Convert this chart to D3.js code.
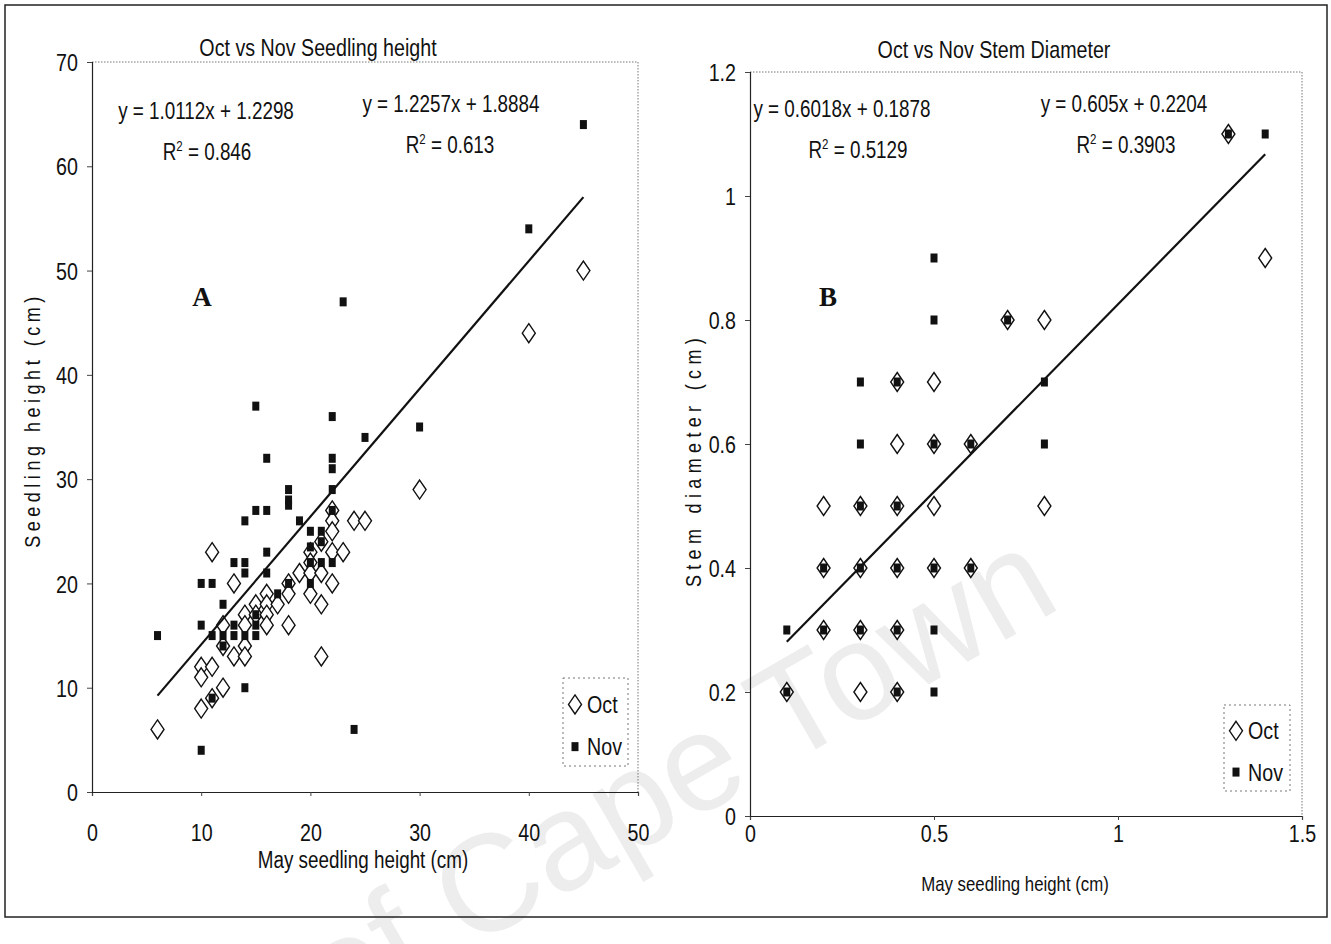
<!DOCTYPE html>
<html><head><meta charset="utf-8">
<script src="https://cdn.jsdelivr.net/npm/d3@7/dist/d3.min.js"></script>
<style>
html,body{margin:0;padding:0;background:#fff;}
svg text{font-family:"Liberation Sans",Arial,sans-serif;fill:#111;}
</style></head>
<body>
<svg id="chart" width="1331" height="944"></svg>
<script>
// ---------------- DATA ----------------
// Panel A: seedling height (cm) [May, month]
const heightOct = [[6,6],[10,12],[10,11],[10,8],[11,12],[11,23],[11,9],[12,10],[12,16],[12,14],[13,20],[13,13],
  [14,17],[14,16],[14,14],[14,13],[15,18],[15,17],[16,19],[16,18],[16,17],[16,16],[17,18],[18,20],[18,19],[18,16],
  [19,21],[20,23],[20,22],[20,21],[20,19],[21,24],[21,21],[21,18],[21,13],[22,27],[22,26],[22,25],[22,23],[22,20],
  [23,23],[24,26],[25,26],[30,29],[40,44],[45,50]];
const heightNov = [[6,15],[10,4],[10,16],[10,20],[11,20],[11,15],[11,9],[12,18],[12,15],[12,14],[13,22],[13,16],
  [13,15],[14,26],[14,22],[14,21],[14,15],[14,10],[15,37],[15,27],[15,17],[15,16],[15,15],[16,32],[16,27],[16,23],
  [16,21],[17,19],[18,29],[18,28],[18,27.5],[18,20],[19,26],[20,25],[20,23.5],[20,22],[20,20],[21,25],[21,24],[21,22],
  [22,36],[22,32],[22,31],[22,29],[22,27],[22,22],[23,47],[24,6],[25,34],[30,35],[40,54],[45,64]];
// Panel B: stem diameter (cm) [May, month]
const diamOct = [[0.1,0.2],[0.2,0.5],[0.2,0.4],[0.2,0.3],[0.3,0.5],[0.3,0.4],[0.3,0.3],[0.3,0.2],[0.4,0.7],[0.4,0.6],
  [0.4,0.5],[0.4,0.4],[0.4,0.3],[0.4,0.2],[0.5,0.7],[0.5,0.6],[0.5,0.5],[0.5,0.4],[0.6,0.6],[0.6,0.4],[0.7,0.8],
  [0.8,0.8],[0.8,0.5],[1.3,1.1],[1.4,0.9]];
const diamNov = [[0.1,0.3],[0.1,0.2],[0.2,0.4],[0.2,0.3],[0.3,0.7],[0.3,0.6],[0.3,0.5],[0.3,0.4],[0.3,0.3],[0.4,0.7],
  [0.4,0.5],[0.4,0.4],[0.4,0.3],[0.4,0.2],[0.5,0.9],[0.5,0.8],[0.5,0.6],[0.5,0.4],[0.5,0.3],[0.5,0.2],[0.6,0.6],
  [0.6,0.4],[0.7,0.8],[0.8,0.7],[0.8,0.6],[1.3,1.1],[1.4,1.1]];
// trendline (Nov) coefficients [slope, intercept] and x-range
const trendA = {slope:1.2257, intercept:1.8884, from:6, to:45};
const trendB = {slope:0.605, intercept:0.2204, from:0.1, to:1.4};
// tick values
const xTicksA = [0,10,20,30,40,50];
const yTicksA = [0,10,20,30,40,50,60,70];
const xTicksB = [0,0.5,1,1.5];
const yTicksB = [0,0.2,0.4,0.6,0.8,1,1.2];
// texts
const titles = ["Oct vs Nov Seedling height","Oct vs Nov Stem Diameter"];
const xTitles = ["May seedling height (cm)","May seedling height (cm)"];
const yTitles = ["Seedling height (cm)","Stem diameter (cm)"];
const eqA = ["y = 1.0112x + 1.2298","0.846","y = 1.2257x + 1.8884","0.613"];
const eqB = ["y = 0.6018x + 0.1878","0.5129","y = 0.605x + 0.2204","0.3903"];
const seriesNames = ["Oct","Nov"];

// ---------------- DRAW ----------------
const NARROW = 0.82;   // emulate a narrow (Arial Narrow–like) face
const svg = d3.select("#chart");

function ntext(parent, x, y, str, size, anchor, rot){
  return parent.append("text")
    .attr("transform", `translate(${x},${y})${rot?` rotate(${rot})`:""} scale(${NARROW},1)`)
    .attr("text-anchor", anchor || "middle").style("font-size", size + "px").text(str);
}

// watermark
svg.append("text").attr("transform","translate(1064,606) rotate(-30)")
  .attr("text-anchor","end").style("font-size","138px").style("fill","#ededed").text("University of Cape Town");

// outer frame
svg.append("rect").attr("x",5).attr("y",5).attr("width",1322).attr("height",912)
  .attr("fill","none").attr("stroke","#222").attr("stroke-width",1.5);

function diamond(g, data, x, y){
  g.selectAll("path.oct").data(data).join("path").attr("class","oct")
    .attr("d", d => `M${x(d[0])},${y(d[1])-9.5} L${x(d[0])+6.5},${y(d[1])} L${x(d[0])},${y(d[1])+9.5} L${x(d[0])-6.5},${y(d[1])} Z`)
    .attr("fill","#fff").attr("stroke","#111").attr("stroke-width",1.4);
}
function squares(g, data, x, y){
  g.selectAll("rect.nov").data(data).join("rect").attr("class","nov")
    .attr("x", d => x(d[0])-3.5).attr("y", d => y(d[1])-4.5)
    .attr("width",7).attr("height",9).attr("fill","#111");
}

function panel(cfg){
  const {x, y, xTicks, yTicks, fmtX, fmtY, oct, nov, trend, title, titlePos, xTitle, xTitlePos, xTitleSize, yTitle, yTitlePos,
         yTitleSpacing, xLabelGap, eq, eqPos, letter, letterPos, legend} = cfg;
  const g = svg.append("g");
  const [x0,x1] = x.range(), [y0,y1] = y.range();
  // plot area border (dotted)
  g.append("path").attr("d",`M${x0},${y1} L${x1},${y1} L${x1},${y0}`)
    .attr("fill","none").attr("stroke","#777").attr("stroke-width",1).attr("stroke-dasharray","1.5,1.5");
  // axes
  const ax = g.append("g").attr("transform",`translate(0,${y0})`)
    .call(d3.axisBottom(x).tickValues(xTicks).tickFormat(fmtX).tickSize(4).tickPadding(xLabelGap));
  const ay = g.append("g").attr("transform",`translate(${x0},0)`)
    .call(d3.axisLeft(y).tickValues(yTicks).tickFormat(fmtY).tickSize(5).tickPadding(9));
  [ax,ay].forEach(a=>{
    a.select(".domain").attr("stroke","#222").attr("stroke-width",1.2);
    a.selectAll(".tick line").attr("stroke","#444");
    a.selectAll(".tick text").style("font-size","24px").attr("fill","#111")
      .attr("x", function(){ return (+d3.select(this).attr("x") || 0) / NARROW; })
      .attr("transform", `scale(${NARROW},1)`);
  });
  ax.selectAll(".tick text").attr("dy","0.68em");
  ay.selectAll(".tick text").attr("dy","0.36em");
  // titles
  ntext(g, titlePos[0], titlePos[1], title, 24);
  ntext(g, xTitlePos[0], xTitlePos[1], xTitle, xTitleSize);
  ntext(g, yTitlePos[0], yTitlePos[1], yTitle, 22, "middle", -90).style("letter-spacing", yTitleSpacing + "px");
  // equations
  ntext(g, eqPos[0][0], eqPos[0][1], eq[0], 23);
  const r1 = ntext(g, eqPos[1][0], eqPos[1][1], "", 23);
  r1.append("tspan").text("R"); r1.append("tspan").attr("dy",-9).style("font-size","14px").text("2");
  r1.append("tspan").attr("dy",9).text(" = " + eq[1]);
  ntext(g, eqPos[2][0], eqPos[2][1], eq[2], 23);
  const r2 = ntext(g, eqPos[3][0], eqPos[3][1], "", 23);
  r2.append("tspan").text("R"); r2.append("tspan").attr("dy",-9).style("font-size","14px").text("2");
  r2.append("tspan").attr("dy",9).text(" = " + eq[3]);
  // letter
  g.append("text").attr("x",letterPos[0]).attr("y",letterPos[1]).attr("text-anchor","middle")
    .style("font-family","Liberation Serif, Times New Roman, serif").style("font-weight","bold")
    .style("font-size","27px").text(letter);
  // trendline
  const line = d3.line().x(d=>x(d)).y(d=>y(trend.slope*d+trend.intercept));
  // markers
  diamond(g.append("g"), oct, x, y);
  g.append("path").datum([trend.from, trend.to]).attr("d", line)
    .attr("stroke","#111").attr("stroke-width",2.2).attr("fill","none");
  squares(g.append("g"), nov, x, y);
  // legend
  const L = legend;
  const lg = g.append("g");
  lg.append("rect").attr("x",L.x).attr("y",L.y).attr("width",L.w).attr("height",L.h)
    .attr("fill","#fff").attr("stroke","#777").attr("stroke-dasharray","2,3");
  const lx = L.x + 12, ly1 = L.y + L.h*0.3, ly2 = L.y + L.h*0.78;
  diamond(lg.append("g"), [[x.invert(lx), y.invert(ly1)]], x, y);
  squares(lg.append("g"), [[x.invert(lx), y.invert(ly2)]], x, y);
  ntext(lg, lx+12, ly1+8.5, seriesNames[0], 24, "start");
  ntext(lg, lx+12, ly2+8.5, seriesNames[1], 24, "start");
}

panel({
  x: d3.scaleLinear().domain([0,50]).range([92,638]),
  y: d3.scaleLinear().domain([0,70]).range([792,62]),
  xTicks: xTicksA, yTicks: yTicksA, fmtX: d3.format("d"), fmtY: d3.format("d"),
  oct: heightOct, nov: heightNov, trend: trendA,
  title: titles[0], titlePos: [318,56], xTitle: xTitles[0], xTitlePos:[363,868], xTitleSize: 23,
  yTitle: yTitles[0], yTitlePos:[40,420], yTitleSpacing: 5.5, xLabelGap: 29,
  eq: eqA, eqPos: [[206,119],[207,160],[451,112],[450,153]],
  letter: "A", letterPos: [202,306],
  legend: {x:563, y:678, w:65, h:88}
});
panel({
  x: d3.scaleLinear().domain([0,1.5]).range([750,1302]),
  y: d3.scaleLinear().domain([0,1.2]).range([816,72]),
  xTicks: xTicksB, yTicks: yTicksB, fmtX: d => d3.format("")(d), fmtY: d => d3.format("")(d),
  oct: diamOct, nov: diamNov, trend: trendB,
  title: titles[1], titlePos: [994,58], xTitle: xTitles[1], xTitlePos:[1015,891], xTitleSize: 20.5,
  yTitle: yTitles[1], yTitlePos:[701,460], yTitleSpacing: 6.5, xLabelGap: 6,
  eq: eqB, eqPos: [[842,117],[858,158],[1124,112],[1126,153]],
  letter: "B", letterPos: [828,306],
  legend: {x:1224, y:705, w:66, h:86}
});
</script>
</body></html>
